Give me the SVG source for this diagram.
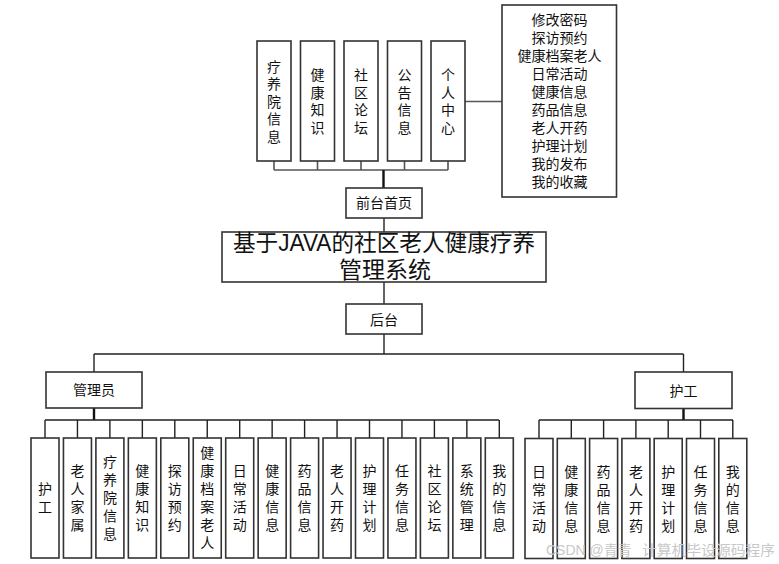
<svg xmlns="http://www.w3.org/2000/svg" width="779" height="564" viewBox="0 0 779 564">
<style>
.box{fill:#fff;stroke:#333;stroke-width:1.6}
.t{font-family:"Liberation Sans","Noto Sans CJK SC",sans-serif;font-size:14px;fill:#111;text-anchor:middle}
.v{font-family:"Noto Sans CJK SC","Liberation Sans",sans-serif;font-size:14px;fill:#111;text-anchor:middle;writing-mode:vertical-rl;letter-spacing:4px}
.vt{letter-spacing:3.5px}
.ttl{font-family:"Liberation Sans","Noto Sans CJK SC",sans-serif;font-size:23px;fill:#111}
.ln{stroke:#222;stroke-width:1.4;fill:none}
.lg{stroke:#555;stroke-width:1.6;fill:none}
.thick{stroke:#111;stroke-width:2.4;fill:none}
.wm{font-family:"Liberation Sans","Noto Sans CJK SC",sans-serif;font-size:14px;fill:#c8c8c8}
</style>
<rect width="779" height="564" fill="#fff"/>
<g id="connectors">
<path class="lg" d="M274 161V170M317.5 161V170M361 161V170M404.5 161V170M448 161V170M274 170H448"/>
<path class="thick" d="M383.5 170V188"/>
<path class="lg" d="M464.5 101.5H502"/>
<path class="ln" d="M384 218V232M384 282V304M384 334V354M94 354H683.5M94 354V372M683.5 354V372"/>
<path class="thick" d="M94 408V420M683.5 408.5V420"/>
<path class="ln" d="M45 420H499M539 420H733"/>
<path class="ln" d="M45 420V438M77.45 420V438M109.9 420V438M142.35 420V438M174.8 420V438M207.25 420V438M239.7 420V438M272.15 420V438M304.6 420V438M337.05 420V438M369.5 420V438M401.95 420V438M434.4 420V438M466.85 420V438M499.3 420V438"/>
<path class="ln" d="M539 420V438.5M571.3 420V438.5M603.6 420V438.5M635.9 420V438.5M668.2 420V438.5M700.5 420V438.5M732.8 420V438.5"/>
</g>
<g id="n-liaoyangyuan"><rect class="box" x="257" y="41" width="34" height="120"/><text class="v vt" x="274" y="103">疗养院信息</text></g>
<g id="n-jiankangzhishi"><rect class="box" x="300.5" y="41" width="34" height="120"/><text class="v vt" x="317.5" y="103">健康知识</text></g>
<g id="n-shequluntan"><rect class="box" x="344" y="41" width="34" height="120"/><text class="v vt" x="361" y="103">社区论坛</text></g>
<g id="n-gonggao"><rect class="box" x="387.5" y="41" width="34" height="120"/><text class="v vt" x="404.5" y="103">公告信息</text></g>
<g id="n-gerenzhongxin"><rect class="box" x="431" y="41" width="34" height="120"/><text class="v vt" x="448" y="103">个人中心</text></g>
<g id="n-gerenlist"><rect class="box" x="502" y="5" width="114.5" height="192"/><text class="t"><tspan x="559.5" y="25">修改密码</tspan><tspan x="559.5" y="43">探访预约</tspan><tspan x="559.5" y="61">健康档案老人</tspan><tspan x="559.5" y="79">日常活动</tspan><tspan x="559.5" y="97">健康信息</tspan><tspan x="559.5" y="115">药品信息</tspan><tspan x="559.5" y="133">老人开药</tspan><tspan x="559.5" y="151">护理计划</tspan><tspan x="559.5" y="169">我的发布</tspan><tspan x="559.5" y="187">我的收藏</tspan></text></g>
<g id="n-qiantai"><rect class="box" x="346" y="188" width="76" height="30"/><text class="t" x="384" y="208">前台首页</text></g>
<g id="n-title"><rect class="box" x="222" y="232" width="324" height="50"/>
<text class="ttl" x="233" y="251" textLength="302" lengthAdjust="spacingAndGlyphs">基于JAVA的社区老人健康疗养</text>
<text class="ttl" style="text-anchor:middle" x="385" y="278">管理系统</text></g>
<g id="n-houtai"><rect class="box" x="346" y="304" width="76" height="30"/><text class="t" x="384" y="325">后台</text></g>
<g id="n-admin"><rect class="box" x="46" y="372" width="96" height="36"/><text class="t" x="94" y="395">管理员</text></g>
<g id="n-nurse"><rect class="box" x="635" y="372" width="97" height="36.5"/><text class="t" x="683.5" y="395.5">护工</text></g>
<g id="a0"><rect class="box" x="31" y="438" width="28" height="120"/><text class="v" x="45" y="500">护工</text></g>
<g id="a1"><rect class="box" x="63.45" y="438" width="28" height="120"/><text class="v" x="77.45" y="500">老人家属</text></g>
<g id="a2"><rect class="box" x="95.9" y="438" width="28" height="120"/><text class="v" x="109.9" y="500">疗养院信息</text></g>
<g id="a3"><rect class="box" x="128.35" y="438" width="28" height="120"/><text class="v" x="142.35" y="500">健康知识</text></g>
<g id="a4"><rect class="box" x="160.8" y="438" width="28" height="120"/><text class="v" x="174.8" y="500">探访预约</text></g>
<g id="a5"><rect class="box" x="193.25" y="438" width="28" height="120"/><text class="v" x="207.25" y="500">健康档案老人</text></g>
<g id="a6"><rect class="box" x="225.7" y="438" width="28" height="120"/><text class="v" x="239.7" y="500">日常活动</text></g>
<g id="a7"><rect class="box" x="258.15" y="438" width="28" height="120"/><text class="v" x="272.15" y="500">健康信息</text></g>
<g id="a8"><rect class="box" x="290.6" y="438" width="28" height="120"/><text class="v" x="304.6" y="500">药品信息</text></g>
<g id="a9"><rect class="box" x="323.05" y="438" width="28" height="120"/><text class="v" x="337.05" y="500">老人开药</text></g>
<g id="a10"><rect class="box" x="355.5" y="438" width="28" height="120"/><text class="v" x="369.5" y="500">护理计划</text></g>
<g id="a11"><rect class="box" x="387.95" y="438" width="28" height="120"/><text class="v" x="401.95" y="500">任务信息</text></g>
<g id="a12"><rect class="box" x="420.4" y="438" width="28" height="120"/><text class="v" x="434.4" y="500">社区论坛</text></g>
<g id="a13"><rect class="box" x="452.85" y="438" width="28" height="120"/><text class="v" x="466.85" y="500">系统管理</text></g>
<g id="a14"><rect class="box" x="485.3" y="438" width="28" height="120"/><text class="v" x="499.3" y="500">我的信息</text></g>
<g id="h0"><rect class="box" x="525" y="438.5" width="28" height="120"/><text class="v" x="539" y="500.5">日常活动</text></g>
<g id="h1"><rect class="box" x="557.3" y="438.5" width="28" height="120"/><text class="v" x="571.3" y="500.5">健康信息</text></g>
<g id="h2"><rect class="box" x="589.6" y="438.5" width="28" height="120"/><text class="v" x="603.6" y="500.5">药品信息</text></g>
<g id="h3"><rect class="box" x="621.9" y="438.5" width="28" height="120"/><text class="v" x="635.9" y="500.5">老人开药</text></g>
<g id="h4"><rect class="box" x="654.2" y="438.5" width="28" height="120"/><text class="v" x="668.2" y="500.5">护理计划</text></g>
<g id="h5"><rect class="box" x="686.5" y="438.5" width="28" height="120"/><text class="v" x="700.5" y="500.5">任务信息</text></g>
<g id="h6"><rect class="box" x="718.8" y="438.5" width="28" height="120"/><text class="v" x="732.8" y="500.5">我的信息</text></g>
<text class="wm" x="546" y="555">CSDN @青青</text>
<text class="wm" x="642" y="555" textLength="133" lengthAdjust="spacingAndGlyphs">计算机毕设源码程序</text>
</svg>
